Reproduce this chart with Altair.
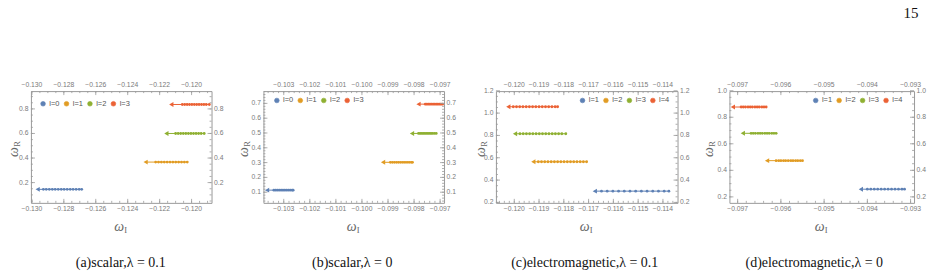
import altair as alt
import numpy as np
import pandas as pd

SERIES_COLORS = ["#5E81B5", "#E19C24", "#8FB032", "#EB6235"]
FRAME = "#9a9a9a"
TICK_TEXT = "#7a7a7a"
TITLE_TEXT = "#666666"
SANS = "Liberation Sans"
SERIF = "Liberation Serif"

# ---------------- (a) scalar, lambda = 0.1 ----------------
A_LABELS = ["l=0", "l=1", "l=2", "l=3"]
A_WR = [0.145, 0.367, 0.600, 0.836]
A_TIP = [-0.12964, -0.12288, -0.12158, -0.12127]
A_WI = [
    [-0.12928, -0.12910, -0.12891, -0.12872, -0.12854, -0.12835, -0.12816,
     -0.12798, -0.12779, -0.12760, -0.12742, -0.12723, -0.12704, -0.12688],
    [-0.12225, -0.12207, -0.12189, -0.12171, -0.12153, -0.12135, -0.12117,
     -0.12099, -0.12081, -0.12063, -0.12045, -0.12027],
    [-0.12100, -0.12084, -0.12068, -0.12052, -0.12036, -0.12020, -0.12004,
     -0.11988, -0.11972, -0.11956, -0.11940, -0.11921],
    [-0.12058, -0.12043, -0.12028, -0.12013, -0.11998, -0.11983, -0.11968,
     -0.11953, -0.11938, -0.11923, -0.11908, -0.11889],
]
A_XMAJOR = [-0.130, -0.128, -0.126, -0.124, -0.122, -0.120]
A_YMAJOR = [0.2, 0.4, 0.6, 0.8]

# ---------------- (b) scalar, lambda = 0 ----------------
B_LABELS = ["l=0", "l=1", "l=2", "l=3"]
B_WR = [0.114, 0.302, 0.497, 0.695]
B_TIP = [-0.10364, -0.09919, -0.09808, -0.09783]
B_WI = [
    [-0.10338, -0.10331, -0.10324, -0.10317, -0.10310, -0.10303, -0.10296,
     -0.10289, -0.10282, -0.10275, -0.10268, -0.10264],
    [-0.09891, -0.09883, -0.09875, -0.09867, -0.09859, -0.09851, -0.09843,
     -0.09835, -0.09827, -0.09819, -0.09811, -0.09806],
    [-0.09783, -0.09777, -0.09771, -0.09765, -0.09759, -0.09753, -0.09747,
     -0.09741, -0.09735, -0.09729, -0.09722, -0.09715],
    [-0.09757, -0.09751, -0.09745, -0.09739, -0.09733, -0.09727, -0.09721,
     -0.09715, -0.09709, -0.09703, -0.09697, -0.09691],
]
B_XMAJOR = [-0.103, -0.102, -0.101, -0.100, -0.099, -0.098, -0.097]
B_YMAJOR = [0.1, 0.2, 0.3, 0.4, 0.5, 0.6, 0.7]

# ---------------- (c) electromagnetic, lambda = 0.1 ----------------
C_LABELS = ["l=1", "l=2", "l=3", "l=4"]
C_WR = [0.301, 0.564, 0.815, 1.057]
C_TIP = [-0.11675, -0.11923, -0.11997, -0.12024]
C_WI = [
    [-0.11648, -0.11625, -0.11602, -0.11579, -0.11556, -0.11533, -0.11510,
     -0.11487, -0.11464, -0.11441, -0.11418, -0.11395, -0.11376],
    [-0.11903, -0.11890, -0.11877, -0.11864, -0.11851, -0.11838, -0.11825,
     -0.11812, -0.11799, -0.11786, -0.11773, -0.11760, -0.11747, -0.11734,
     -0.11721, -0.11708],
    [-0.11977, -0.11964, -0.11951, -0.11938, -0.11925, -0.11912, -0.11899,
     -0.11886, -0.11873, -0.11860, -0.11847, -0.11834, -0.11821, -0.11808,
     -0.11792],
    [-0.12004, -0.11991, -0.11978, -0.11965, -0.11952, -0.11939, -0.11926,
     -0.11913, -0.11900, -0.11887, -0.11874, -0.11861, -0.11848, -0.11835,
     -0.11825],
]
C_XMAJOR = [-0.120, -0.119, -0.118, -0.117, -0.116, -0.115, -0.114]
C_YMAJOR = [0.2, 0.4, 0.6, 0.8, 1.0, 1.2]

# ---------------- (d) electromagnetic, lambda = 0 ----------------
D_LABELS = ["l=1", "l=2", "l=3", "l=4"]
D_WR = [0.258, 0.473, 0.679, 0.877]
D_TIP = [-0.09415, -0.09632, -0.09688, -0.09711]
D_WI = [
    [-0.09400, -0.09392, -0.09384, -0.09376, -0.09368, -0.09360, -0.09352,
     -0.09344, -0.09336, -0.09328, -0.09320, -0.09314],
    [-0.09611, -0.09605, -0.09600, -0.09594, -0.09589, -0.09583, -0.09577,
     -0.09572, -0.09566, -0.09561, -0.09555, -0.09550],
    [-0.09669, -0.09664, -0.09659, -0.09653, -0.09648, -0.09643, -0.09637,
     -0.09632, -0.09627, -0.09621, -0.09616, -0.09611],
    [-0.09692, -0.09687, -0.09682, -0.09676, -0.09671, -0.09666, -0.09660,
     -0.09655, -0.09650, -0.09644, -0.09639, -0.09634],
]
D_XMAJOR = [-0.097, -0.096, -0.095, -0.094, -0.093]
D_YMAJOR = [0.2, 0.4, 0.6, 0.8, 1.0]

PANELS = [
    dict(labels=A_LABELS, wr=A_WR, tip=A_TIP, wi=A_WI, xmajor=A_XMAJOR, ymajor=A_YMAJOR,
         xdom=[-0.13006, -0.11875], ydom=[0.035, 0.945], xminor=0.0005, yminor=0.05,
         w=181, caption="(a)scalar,λ = 0.1", cap_x=90, ytitle_x=-16.7,
         leg_x=8.4, leg_y=8.6),
    dict(labels=B_LABELS, wr=B_WR, tip=B_TIP, wi=B_WI, xmajor=B_XMAJOR, ymajor=B_YMAJOR,
         xdom=[-0.10378, -0.09685], ydom=[0.028, 0.783], xminor=0.0002, yminor=0.02,
         w=181, caption="(b)scalar,λ = 0", cap_x=89, ytitle_x=-19.7,
         leg_x=9.7, leg_y=5.3),
    dict(labels=C_LABELS, wr=C_WR, tip=C_TIP, wi=C_WI, xmajor=C_XMAJOR, ymajor=C_YMAJOR,
         xdom=[-0.12074, -0.11341], ydom=[0.196, 1.197], xminor=0.0002, yminor=0.05,
         w=182, caption="(c)electromagnetic,λ = 0.1", cap_x=89, ytitle_x=-15.3,
         leg_x=83.0, leg_y=5.3),
    dict(labels=D_LABELS, wr=D_WR, tip=D_TIP, wi=D_WI, xmajor=D_XMAJOR, ymajor=D_YMAJOR,
         xdom=[-0.09719, -0.09292], ydom=[0.155, 0.997], xminor=0.0002, yminor=0.05,
         w=185, caption="(d)electromagnetic,λ = 0", cap_x=85, ytitle_x=-20,
         leg_x=82.7, leg_y=5.3),
]
H = 112


def fmt_x(v):
    s = f"{abs(v):.3f}"
    return "\u2212" + s if v < 0 else s


def fmt_y(v):
    return f"{v:.1f}"


def ticks_between(lo, hi, step):
    start = np.ceil(lo / step - 1e-9) * step
    return [round(float(v), 6) for v in np.arange(start, hi + 1e-12, step)]


def text_layer(txt, **mark):
    return alt.Chart(pd.DataFrame({"t": [txt]})).mark_text(**mark)


def make_panel(p, idx):
    w, h = p["w"], H
    xsc = alt.Scale(domain=p["xdom"], nice=False, zero=False)
    ysc = alt.Scale(domain=p["ydom"], nice=False, zero=False)

    rows = []
    for lab, wr, tip, wis in zip(p["labels"], p["wr"], p["tip"], p["wi"]):
        rows.append({"l": lab, "wI": tip, "wR": wr, "kind": "tip", "o": 0})
        for k, v in enumerate(wis):
            rows.append({"l": lab, "wI": v, "wR": wr, "kind": "pt", "o": k + 1})
    df = pd.DataFrame(rows)

    cscale = alt.Scale(domain=p["labels"], range=SERIES_COLORS)
    x = alt.X("wI:Q", scale=xsc, axis=None)
    y = alt.Y("wR:Q", scale=ysc, axis=None)
    legend = alt.Legend(
        orient="none", legendX=p["leg_x"], legendY=p["leg_y"], direction="horizontal",
        title=None, symbolType="circle", symbolSize=22, symbolStrokeWidth=0.6,
        symbolOpacity=1,
        labelFont=SANS, labelFontSize=7.5, labelColor="#555555", labelOffset=2.5,
        columnPadding=2.5, padding=0,
    )
    color = alt.Color("l:N", scale=cscale, legend=legend)
    base = alt.Chart(df)
    dots = base.transform_filter(alt.datum.kind == "pt").mark_point(
        filled=True, shape="circle", size=8, opacity=1).encode(x=x, y=y, color=color)
    line = base.mark_line(strokeWidth=1).encode(x=x, y=y, order="o:Q", color=color)
    tips = base.transform_filter(alt.datum.kind == "tip").mark_point(
        filled=True, shape="triangle-left", size=24, opacity=1).encode(
        x=x, y=y, color=color)

    xv = alt.X("v:Q", scale=xsc, axis=None)
    yv = alt.Y("v:Q", scale=ysc, axis=None)
    xmaj = pd.DataFrame({"v": p["xmajor"]})
    ymaj = pd.DataFrame({"v": p["ymajor"]})
    xmin = pd.DataFrame({"v": ticks_between(*p["xdom"], p["xminor"])})
    ymin = pd.DataFrame({"v": ticks_between(*p["ydom"], p["yminor"])})

    def rules(d, **enc):
        return alt.Chart(d).mark_rule(color=FRAME, strokeWidth=0.8).encode(**enc)

    ticks = []
    for d, size in ((xmaj, 4), (xmin, 2)):
        ticks.append(rules(d, x=xv, y=alt.value(h), y2=alt.value(h - size)))
        ticks.append(rules(d, x=xv, y=alt.value(0), y2=alt.value(size)))
    for d, size in ((ymaj, 4), (ymin, 2)):
        ticks.append(rules(d, y=yv, x=alt.value(0), x2=alt.value(size)))
        ticks.append(rules(d, y=yv, x=alt.value(w), x2=alt.value(w - size)))

    tick_font = dict(font=SANS, fontSize=6.8, color=TICK_TEXT)
    xlab = alt.Chart(pd.DataFrame({"v": p["xmajor"], "t": [fmt_x(v) for v in p["xmajor"]]}))
    ylab = alt.Chart(pd.DataFrame({"v": p["ymajor"], "t": [fmt_y(v) for v in p["ymajor"]]}))
    labels = [
        xlab.mark_text(baseline="middle", **tick_font).encode(
            x=xv, y=alt.value(h + 6.5), text="t:N"),
        xlab.mark_text(baseline="middle", **tick_font).encode(
            x=xv, y=alt.value(-6), text="t:N"),
        ylab.mark_text(align="right", baseline="middle", **tick_font).encode(
            y=yv, x=alt.value(-2.5), text="t:N"),
        ylab.mark_text(align="left", baseline="middle", **tick_font).encode(
            y=yv, x=alt.value(w + 2.5), text="t:N"),
    ]

    omega = dict(font=SERIF, fontStyle="italic", fontSize=14, color=TITLE_TEXT)
    sub = dict(font=SERIF, fontSize=8.5, color=TITLE_TEXT)
    titles = [
        text_layer("ω", baseline="middle", **omega).encode(
            x=alt.value(w / 2 - 2), y=alt.value(h + 24), text="t:N"),
        text_layer("I", baseline="middle", **sub).encode(
            x=alt.value(w / 2 + 4.5), y=alt.value(h + 27), text="t:N"),
        text_layer("ω", angle=270, baseline="middle", **omega).encode(
            x=alt.value(p["ytitle_x"]), y=alt.value(h / 2 + 5), text="t:N"),
        text_layer("R", angle=270, baseline="middle", **sub).encode(
            x=alt.value(p["ytitle_x"] + 3), y=alt.value(h / 2 - 3), text="t:N"),
        text_layer(p["caption"], font=SERIF, fontSize=14, color="#111111",
                   baseline="middle").encode(
            x=alt.value(p["cap_x"]), y=alt.value(h + 60), text="t:N"),
    ]

    extra = []
    if idx == 0:
        # white edge rule that fixes the page's left and vertical extent
        extra.append(alt.Chart(pd.DataFrame({"t": [0]})).mark_rule(
            color="white", strokeWidth=1).encode(
            x=alt.value(-29.5), y=alt.value(-90), y2=alt.value(h + 73)))
    if idx == 3:
        extra.append(alt.Chart(pd.DataFrame({"t": [0]})).mark_rule(
            color="white", strokeWidth=1).encode(
            x=alt.value(w + 15.5), y=alt.value(-90), y2=alt.value(h + 73)))
        extra.append(text_layer("15", font=SERIF, fontSize=15, color="#111111",
                                baseline="middle").encode(
            x=alt.value(w - 3), y=alt.value(-78), text="t:N"))

    return alt.layer(dots, line, tips, *extra, *ticks, *labels, *titles).properties(
        width=w, height=h)


panels = [make_panel(p, i) for i, p in enumerate(PANELS)]

chart = (
    alt.hconcat(*panels, spacing=52, bounds="flush")
    .resolve_scale(color="independent")
    .properties(padding=0, background="white")
    .configure_view(stroke=FRAME, strokeWidth=1)
)

chart.save("out.html", embed_options={"renderer": "svg", "actions": False})
